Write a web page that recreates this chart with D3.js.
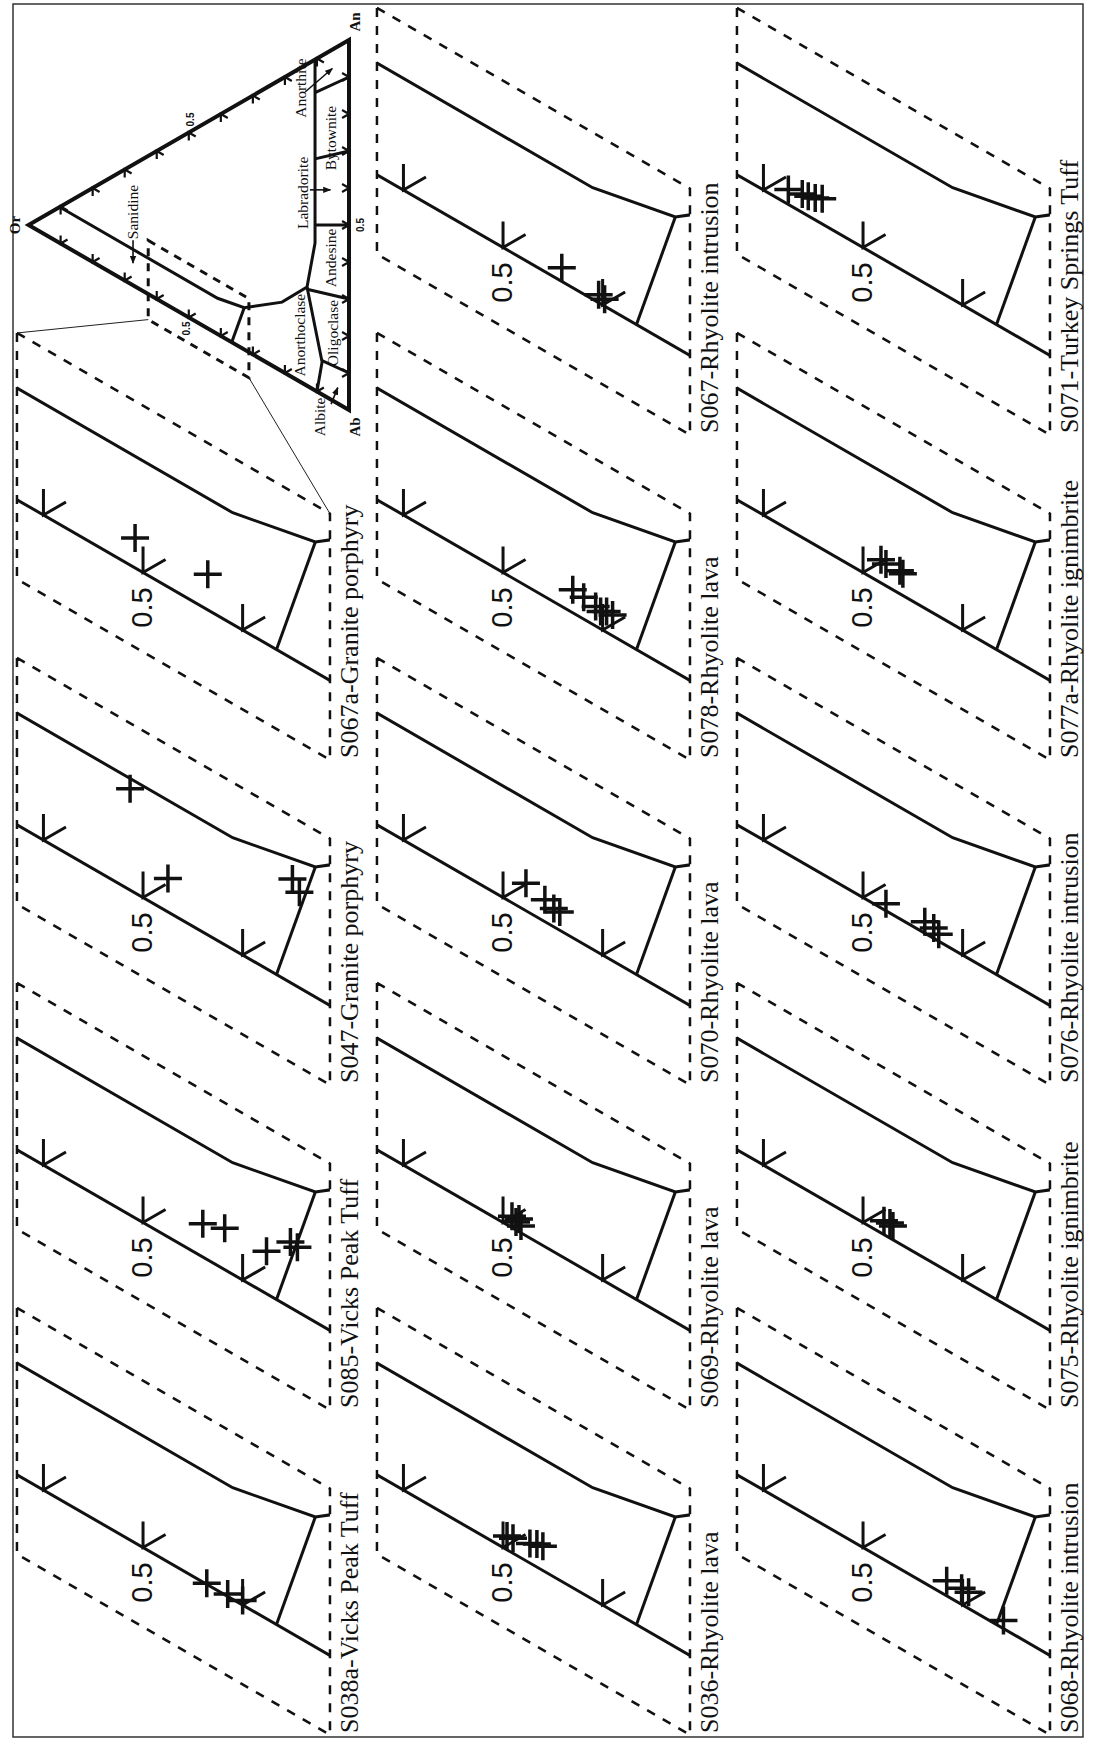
<!DOCTYPE html>
<html>
<head>
<meta charset="utf-8">
<script src="https://cdn.jsdelivr.net/npm/d3@7"></script>
<style>
  body { margin: 0; background: #fff; }
  svg { display: block; }
</style>
</head>
<body>
<div id="chart"></div>
<script>
// sample panels, in reading order of the rotated page
var sampleNames = ["S067-Rhyolite intrusion", "S071-Turkey Springs Tuff",
  "S067a-Granite porphyry", "S078-Rhyolite lava", "S077a-Rhyolite ignimbrite",
  "S047-Granite porphyry", "S070-Rhyolite lava", "S076-Rhyolite intrusion",
  "S085-Vicks Peak Tuff", "S069-Rhyolite lava", "S075-Rhyolite ignimbrite",
  "S038a-Vicks Peak Tuff", "S036-Rhyolite lava", "S068-Rhyolite intrusion"];
var sampleCol = [1, 2, 0, 1, 2, 0, 1, 2, 0, 1, 2, 0, 1, 2];
var sampleRow = [0, 0, 1, 1, 1, 2, 2, 2, 3, 3, 3, 4, 4, 4];

// feldspar analyses: Or and An fractions (Ab is the rest)
var orFrac = [
  [0.441, 0.404, 0.398],
  [0.575, 0.561, 0.555, 0.548, 0.541],
  [0.508, 0.435],
  [0.430, 0.419, 0.407, 0.402, 0.396, 0.390],
  [0.482, 0.477, 0.463, 0.460],
  [0.513, 0.475, 0.350, 0.343],
  [0.477, 0.458, 0.449, 0.443],
  [0.477, 0.438, 0.429, 0.424],
  [0.440, 0.418, 0.376, 0.352, 0.345],
  [0.491, 0.487, 0.484, 0.482],
  [0.479, 0.473, 0.470],
  [0.436, 0.415, 0.400],
  [0.496, 0.490, 0.473, 0.466, 0.460],
  [0.416, 0.401, 0.394, 0.359]
];
var anFrac = [
  [0.012, 0.007, 0.006],
  [0.013, 0.016, 0.017, 0.019, 0.022],
  [0.026, 0.031],
  [0.020, 0.019, 0.017, 0.015, 0.018, 0.018],
  [0.020, 0.019, 0.020, 0.019],
  [0.088, 0.029, 0.091, 0.083],
  [0.024, 0.019, 0.016, 0.016],
  [0.006, 0.010, 0.009, 0.006],
  [0.029, 0.036, 0.037, 0.057, 0.056],
  [0.010, 0.007, 0.011, 0.006],
  [0.012, 0.013, 0.012],
  [0.001, 0.002, 0.004],
  [0.012, 0.013, 0.017, 0.020, 0.021],
  [0.013, 0.014, 0.014, 0.007]
];

// field boundaries of the feldspar triangle (Or, An)
var boundaryOr = [0.903, 0.41, 0.327, 0.209, 0.131, 0.106, 0.106];
var boundaryAn = [0.097, 0.097, 0.113, 0.187, 0.267, 0.398, 0.894];
var sanAnoOr = [0.366, 0.327], sanAnoAn = [0, 0.113];
var anoOliOr = [0.131, 0.084, 0.100], anoOliAn = [0.267, 0.088, 0];
// plagioclase divisions, An/(An+Ab), drawn from the boundary to the Ab-An side
var plagDiv = [0.1, 0.3, 0.5, 0.7, 0.9];
var plagDivStartOr = [0.084, 0.131, 0.106, 0.106, 0.106];

// zoom window (dashed box)
var boxOr = [0.6266, 0.3123];
var boxAn = [-0.069, 0.145];

var edgeTicks = [0.1, 0.2, 0.3, 0.4, 0.5, 0.6, 0.7, 0.8, 0.9];
var panelTicks = [0.6, 0.5, 0.4];
var tickLabel = "0.5";

var fieldNames = ["Sanidine", "Anorthoclase", "Albite", "Oligoclase", "Andesine", "Labradorite", "Bytownite", "Anorthite"];
var fieldOr = [0.674, 0.153, 0.0905, 0.050, 0.056, 0.1436, 0.056, 0.150];
var fieldAn = [0.198, 0.126, -0.064, 0.183, 0.383, 0.515, 0.707, 0.795];
// arrows from labels into fields: [Or start, An start, Or end, An end]
var arrowFrom = { "Sanidine": [0.674, 0.122, 0.674, 0.060], "Labradorite": [0.122, 0.534, 0.058, 0.566],
  "Anorthite": [0.137, 0.791, 0.052, 0.897], "Albite": [0.056, -0.012, 0.035, 0.043] };

var W = 1093, H = 1739;
var R3 = Math.sqrt(3) / 2;

var svg = d3.select("#chart").append("svg")
  .attr("width", W).attr("height", H);

svg.append("defs").append("marker")
  .attr("id", "arr").attr("viewBox", "0 0 10 10")
  .attr("refX", 9).attr("refY", 5)
  .attr("markerWidth", 5).attr("markerHeight", 5)
  .attr("orient", "auto")
  .append("path").attr("d", "M0,1L10,5L0,9z").attr("fill", "#111");

// page frame
svg.append("rect")
  .attr("x", 13).attr("y", 4).attr("width", 1070).attr("height", 1733)
  .attr("fill", "none").attr("stroke", "#333").attr("stroke-width", 1.5);

// ternary projection: Ab at (abx, aby), An straight up, Or to the left
function makeProj(abx, aby, S) {
  var hx = d3.scaleLinear().domain([0, 1]).range([abx, abx - S]);
  var by = d3.scaleLinear().domain([0, 1]).range([aby, aby - S]);
  return function (or, an) {
    return [hx(or * R3), by(an + or / 2)];
  };
}

var line = d3.line();

function boxPts(proj) {
  return [proj(boxOr[0], boxAn[1]), proj(boxOr[1], boxAn[1]),
          proj(boxOr[1], boxAn[0]), proj(boxOr[0], boxAn[0])];
}

function panelProj(c, r) {
  return makeProj(641 + 360 * c, 535 + 325 * r, 1150);
}

// ---------- zoomed panels ----------
sampleNames.forEach(function (name, i) {
  var c = sampleCol[i], r = sampleRow[i];
  var proj = panelProj(c, r);
  var g = svg.append("g").attr("class", "panel");
  var bp = boxPts(proj);

  g.append("clipPath").attr("id", "clip" + i)
    .append("polygon").attr("points", bp.map(function (p) { return p.join(","); }).join(" "));

  var inner = g.append("g").attr("clip-path", "url(#clip" + i + ")")
    .attr("fill", "none").attr("stroke", "#111").attr("stroke-width", 3);

  inner.append("path").attr("d", line([proj(1, 0), proj(0, 0)]));
  inner.append("path").attr("d", line(boundaryOr.map(function (o, k) { return proj(o, boundaryAn[k]); })));
  inner.append("path").attr("d", line(sanAnoOr.map(function (o, k) { return proj(o, sanAnoAn[k]); })));

  // dashed zoom box
  g.append("path").attr("d", line(bp) + "Z")
    .attr("fill", "none").attr("stroke", "#111").attr("stroke-width", 2.5)
    .attr("stroke-dasharray", "9,9");

  // ticks on the Or-Ab side
  panelTicks.forEach(function (t) {
    var p = proj(t, 0);
    g.append("path")
      .attr("d", "M" + p[0] + "," + (p[1] - 26) + "L" + p[0] + "," + p[1] +
        "L" + (p[0] + 26 * R3) + "," + (p[1] - 13))
      .attr("fill", "none").attr("stroke", "#111").attr("stroke-width", 3);
  });
  var p5 = proj(0.5, 0);
  g.append("text")
    .attr("transform", "translate(" + (p5[0] - 1) + "," + (p5[1] + 35) + ") rotate(-90)")
    .attr("text-anchor", "middle").attr("dy", "0.36em")
    .style("font-family", "'Liberation Sans', Arial, sans-serif")
    .style("font-size", "29px").attr("fill", "#111")
    .text(tickLabel);

  // analyses
  g.selectAll(".pt").data(orFrac[i]).enter().append("path")
    .attr("class", "pt")
    .attr("transform", function (o, k) { var p = proj(o, anFrac[i][k]); return "translate(" + p[0] + "," + p[1] + ")"; })
    .attr("d", "M-14,0H14M0,-14V14")
    .attr("stroke", "#111").attr("stroke-width", 3.5);

  // sample label
  g.append("text")
    .attr("transform", "translate(" + (358 + 360 * c) + "," + (1733 - 325 * (4 - r)) + ") rotate(-90)")
    .attr("text-anchor", "start")
    .style("font-family", "'Liberation Serif', 'Times New Roman', serif")
    .style("font-size", "26px").attr("fill", "#111")
    .text(name);
});

// ---------- full triangle inset ----------
var ip = makeProj(349, 410, 370);
var ig = svg.append("g").attr("class", "inset");

var Or = ip(1, 0), An = ip(0, 1), Ab = ip(0, 0);

// boundaries
var bg = ig.append("g").attr("fill", "none").attr("stroke", "#111").attr("stroke-width", 3);
bg.append("path").attr("d", line(boundaryOr.map(function (o, k) { return ip(o, boundaryAn[k]); })));
bg.append("path").attr("d", line(sanAnoOr.map(function (o, k) { return ip(o, sanAnoAn[k]); })));
bg.append("path").attr("d", line(anoOliOr.map(function (o, k) { return ip(o, anoOliAn[k]); })));
plagDiv.forEach(function (f, k) {
  var o = plagDivStartOr[k];
  bg.append("path").attr("d", line([ip(o, f * (1 - o)), ip(0, f)]));
});

// triangle
ig.append("path").attr("d", line([Or, An, Ab]) + "Z")
  .attr("fill", "none").attr("stroke", "#111").attr("stroke-width", 4)
  .attr("stroke-linejoin", "miter");

// ticks on the three sides
var tg = ig.append("g").attr("fill", "none").attr("stroke", "#111").attr("stroke-width", 2.2);
var L = 8;
edgeTicks.forEach(function (t) {
  var a = ip(1 - t, 0);          // Or-Ab side
  tg.append("path").attr("d", "M" + a[0] + "," + (a[1] - L) + "L" + a[0] + "," + a[1] + "L" + (a[0] + L * R3) + "," + (a[1] - L / 2));
  var b = ip(1 - t, t);          // Or-An side
  tg.append("path").attr("d", "M" + b[0] + "," + (b[1] + L) + "L" + b[0] + "," + b[1] + "L" + (b[0] + L * R3) + "," + (b[1] + L / 2));
  var e = ip(0, t);              // Ab-An side
  tg.append("path").attr("d", "M" + (e[0] - L * R3) + "," + (e[1] - L / 2) + "L" + e[0] + "," + e[1] + "L" + (e[0] - L * R3) + "," + (e[1] + L / 2));
});

// dashed zoom box
var ibp = boxPts(ip);
ig.append("path").attr("d", line(ibp) + "Z")
  .attr("fill", "none").attr("stroke", "#111").attr("stroke-width", 3)
  .attr("stroke-dasharray", "8,7");

// thin leader lines to the S067a panel box
var pj = panelProj(0, 1);
var pbox = boxPts(pj);
ig.append("path").attr("d", line([ibp[3], pbox[0]]))
  .attr("stroke", "#222").attr("stroke-width", 1);
ig.append("path").attr("d", line([ibp[2], pbox[1]]))
  .attr("stroke", "#222").attr("stroke-width", 1);

// field names
var serif = "'Liberation Serif', 'Times New Roman', serif";
fieldNames.forEach(function (n, k) {
  var p = ip(fieldOr[k], fieldAn[k]);
  ig.append("text")
    .attr("transform", "translate(" + p[0] + "," + p[1] + ") rotate(-90)")
    .attr("text-anchor", "middle").attr("dy", "0.35em")
    .style("font-family", serif).style("font-size", "15.5px").attr("fill", "#111")
    .text(n);
  var a = arrowFrom[n];
  if (a) {
    ig.append("path").attr("d", line([ip(a[0], a[1]), ip(a[2], a[3])]))
      .attr("stroke", "#111").attr("stroke-width", 1.6)
      .attr("marker-end", "url(#arr)");
  }
});

// apex labels
[["Or", Or, -14, 0], ["An", An, 6, -18], ["Ab", Ab, 6, 17]].forEach(function (d) {
  ig.append("text")
    .attr("transform", "translate(" + (d[1][0] + d[2]) + "," + (d[1][1] + d[3]) + ") rotate(-90)")
    .attr("text-anchor", "middle").attr("dy", "0.35em")
    .style("font-family", serif).style("font-size", "15px").style("font-weight", "bold")
    .attr("fill", "#111").text(d[0]);
});

// 0.5 labels on the sides
var mids = [[ip(0.5, 0), -2, 11], [ip(0.5, 0.5), 2, -13], [ip(0, 0.5), 11, 0]];
mids.forEach(function (m) {
  ig.append("text")
    .attr("transform", "translate(" + (m[0][0] + m[1]) + "," + (m[0][1] + m[2]) + ") rotate(-90)")
    .attr("text-anchor", "middle").attr("dy", "0.35em")
    .style("font-family", "'Liberation Sans', Arial, sans-serif")
    .style("font-size", "10px").style("font-weight", "bold")
    .attr("fill", "#111").text(tickLabel);
});
</script>
</body>
</html>
